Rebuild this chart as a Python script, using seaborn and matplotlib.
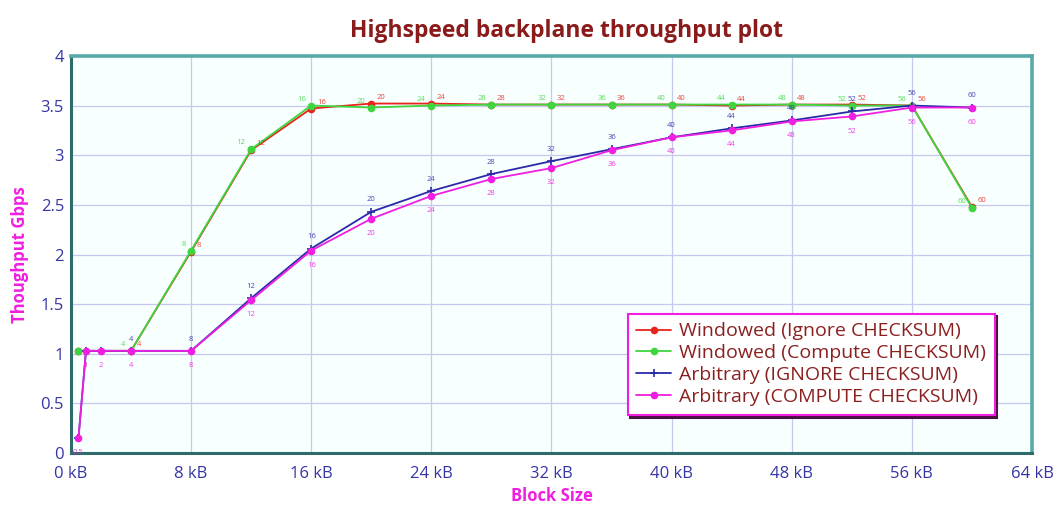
import matplotlib
matplotlib.use("Agg")
import matplotlib.pyplot as plt
import seaborn as sns
import pandas as pd
from matplotlib.ticker import MultipleLocator, FixedLocator

# Block sizes (kB) for each test run
windowed_kb = [0.5, 4, 8, 12, 16, 20, 24, 28, 32, 36, 40, 44, 48, 52, 56, 60]
arbitrary_kb = [0.5, 1, 2, 4, 8, 12, 16, 20, 24, 28, 32, 36, 40, 44, 48, 52, 56, 60]

# Measured throughput (Gbps)
windowed_ignore = [1.03, 1.03, 2.03, 3.05, 3.47, 3.52, 3.52, 3.51, 3.51, 3.51,
                   3.51, 3.50, 3.51, 3.51, 3.50, 2.48]
windowed_compute = [1.03, 1.03, 2.04, 3.06, 3.50, 3.48, 3.50, 3.51, 3.51, 3.51,
                    3.51, 3.51, 3.51, 3.50, 3.50, 2.47]
arbitrary_ignore = [0.15, 1.03, 1.03, 1.03, 1.03, 1.56, 2.06, 2.43, 2.64, 2.81,
                    2.94, 3.06, 3.18, 3.27, 3.35, 3.44, 3.50, 3.48]
arbitrary_compute = [0.15, 1.03, 1.03, 1.03, 1.03, 1.54, 2.04, 2.36, 2.59, 2.76,
                     2.87, 3.05, 3.18, 3.25, 3.34, 3.39, 3.48, 3.48]

series_names = ["Windowed (Ignore CHECKSUM)", "Windowed (Compute CHECKSUM)",
                "Arbitrary (IGNORE CHECKSUM)", "Arbitrary (COMPUTE CHECKSUM)"]
x_ticks = [0, 8, 16, 24, 32, 40, 48, 56, 64]
x_tick_labels = [f"{v} kB" for v in x_ticks]
y_ticks = [0, 0.5, 1, 1.5, 2, 2.5, 3, 3.5, 4]
y_tick_labels = ["0", "0.5", "1", "1.5", "2", "2.5", "3", "3.5", "4"]

sns.set_theme(style="white")
plt.rcParams["font.family"] = ["Open Sans", "DejaVu Sans"]

frames = []
for name, xs, ys in zip(series_names,
                        [windowed_kb, windowed_kb, arbitrary_kb, arbitrary_kb],
                        [windowed_ignore, windowed_compute, arbitrary_ignore, arbitrary_compute]):
    frames.append(pd.DataFrame({"kB": xs, "Gbps": ys, "series": name}))
df = pd.concat(frames, ignore_index=True)

colors = ["#e8241c", "#3ed63e", "#2a2aa8", "#f01ee0"]
markers = ["o", "o", "+", "o"]
msizes = [5.5, 5.5, 6, 5.5]
# point-label placement per series (offset points, horizontal alignment)
label_offsets = [(4, 2, "left"), (-4, 2, "right"), (0, 6, "center"), (0, -13, "center")]

fig = plt.figure(figsize=(10.59, 5.08), dpi=100)
ax = fig.add_axes([0.067, 0.108, 0.9075, 0.782])
ax.set_facecolor("#f7ffff")

for i, name in enumerate(series_names):
    sub = df[df["series"] == name]
    sns.lineplot(data=sub, x="kB", y="Gbps", ax=ax, color=colors[i],
                 marker=markers[i], markersize=msizes[i],
                 markeredgewidth=1.2 if markers[i] == "+" else 0,
                 markeredgecolor=colors[i], linewidth=1.3, label=name, zorder=3 + i)
    dx, dy, ha = label_offsets[i]
    for xv, yv in zip(sub["kB"], sub["Gbps"]):
        # the smallest blocks share one spot, so only the magenta run labels them
        if xv < 4 and i < 3:
            continue
        txt = f"{xv:g}"
        ax.annotate(txt, (xv, yv), xytext=(dx, dy), textcoords="offset points",
                    fontsize=5.5, color=colors[i], ha=ha, va="bottom",
                    alpha=0.85, zorder=8)

ax.set_xlim(0, 64)
ax.set_ylim(0, 4)
ax.xaxis.set_major_locator(FixedLocator(x_ticks))
ax.set_xticklabels(x_tick_labels)
ax.xaxis.set_minor_locator(MultipleLocator(2))
ax.yaxis.set_major_locator(FixedLocator(y_ticks))
ax.set_yticklabels(y_tick_labels)
ax.yaxis.set_minor_locator(MultipleLocator(0.25))

ax.grid(True, which="major", color="#c8c8ee", linewidth=0.9)
ax.tick_params(axis="both", which="major", direction="in", length=5, width=1,
               color="#3a6e6e", labelsize=12, labelcolor="#3535a5")
ax.tick_params(axis="x", which="major", pad=9)
ax.tick_params(axis="y", which="major", pad=5)
ax.tick_params(axis="both", which="minor", direction="in", length=3, width=0.8,
               color="#3a6e6e")
for side in ["left", "bottom"]:
    ax.spines[side].set_color("#2f6b6b")
    ax.spines[side].set_linewidth(2.2)
for side in ["top", "right"]:
    ax.spines[side].set_color("#5aa9a9")
    ax.spines[side].set_linewidth(2.6)

ax.set_xlabel("Block Size", color="#f01ee0", fontsize=12, fontweight="bold", labelpad=4)
ax.set_ylabel("Thoughput Gbps", color="#f01ee0", fontsize=12, fontweight="bold", labelpad=8)
fig.suptitle("Highspeed backplane throughput plot", x=0.535, y=0.962,
             color="#8b1a1a", fontsize=16.5, fontweight="bold")

leg = ax.legend(loc="lower left", bbox_to_anchor=(0.569, 0.072), fontsize=14,
                frameon=True, fancybox=False, shadow={"color": "#4a1040", "alpha": 1},
                handlelength=1.8, handletextpad=0.4, borderpad=0.45, labelspacing=0.2,
                edgecolor="#f01ee0", facecolor="white", framealpha=1)
leg.get_frame().set_linewidth(1.5)
for t in leg.get_texts():
    t.set_color("#8b2020")

fig.savefig("out.png", dpi=100)
